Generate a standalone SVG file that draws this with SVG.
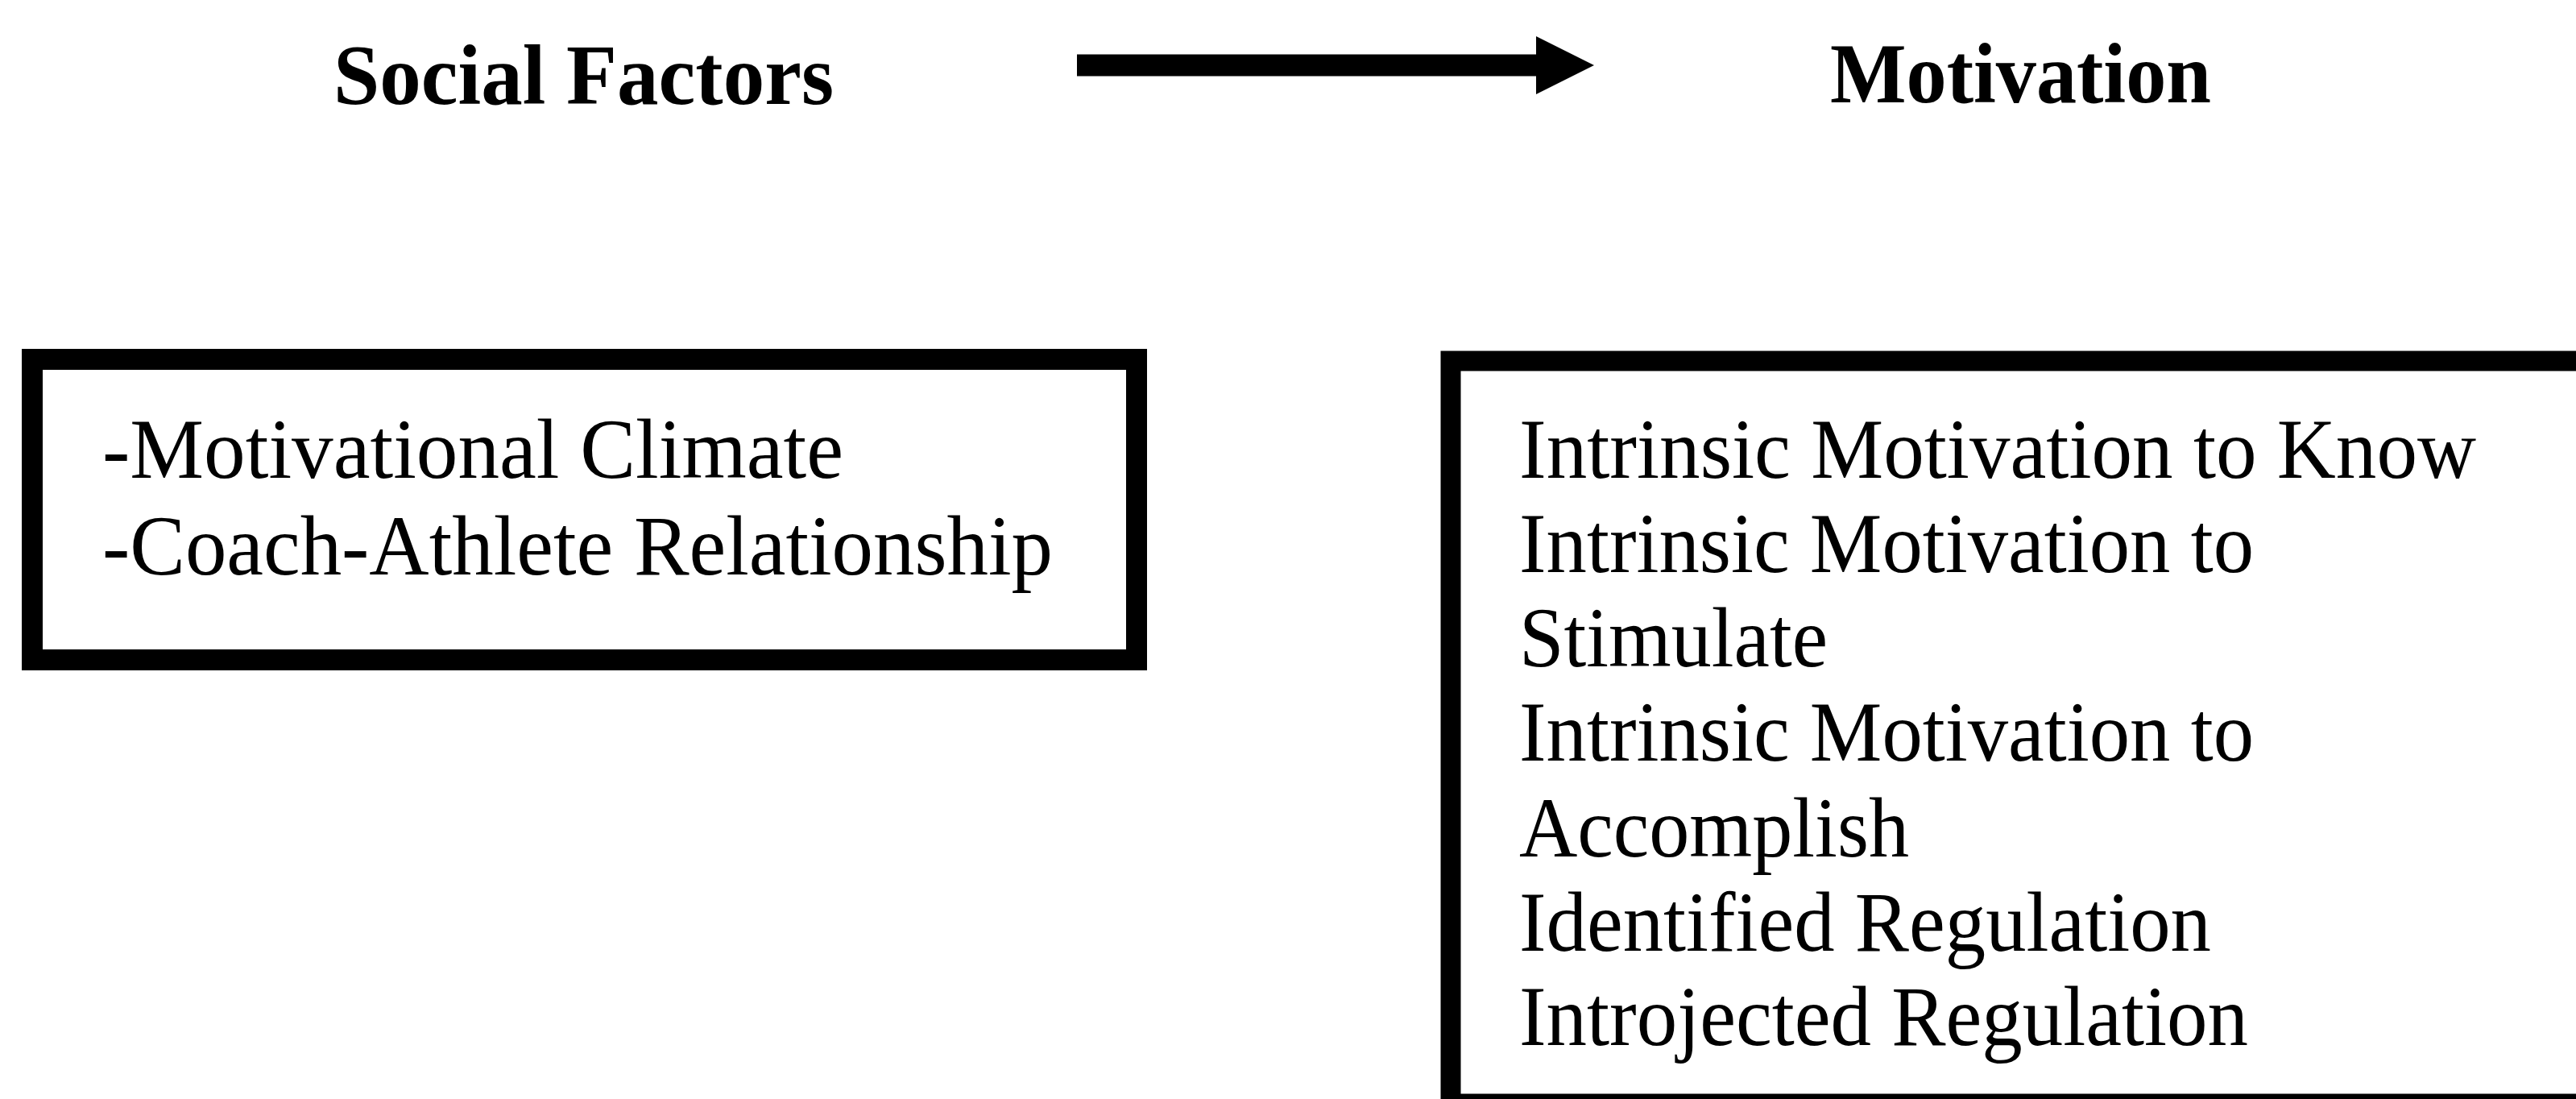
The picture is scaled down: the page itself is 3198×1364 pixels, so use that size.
<svg xmlns="http://www.w3.org/2000/svg" width="3198" height="1364" viewBox="0 0 3198 1364">
  <style>
    .head { font-family: "Liberation Serif", "Times New Roman", serif; font-weight: bold; font-size: 106px; fill: #000; }
    .item { font-family: "Liberation Serif", "Times New Roman", serif; font-size: 106px; fill: #000; }
    .box { fill: none; stroke: #000; }
    .link { stroke: #000; stroke-width: 27; fill: none; }
  </style>
  <defs>
    <marker id="arrowhead" markerUnits="userSpaceOnUse" markerWidth="72" markerHeight="72" viewBox="0 0 70 70" refX="0" refY="35" orient="auto">
      <path d="M0,0 L70,35 L0,70 Z" fill="#000"/>
    </marker>
  </defs>
  <rect width="3198" height="1364" fill="#fff"/>

  <!-- column headings -->
  <g id="social-factors">
    <text class="head" x="414" y="129" textLength="621" lengthAdjust="spacingAndGlyphs">Social Factors</text>
  </g>
  <g id="motivation">
    <text class="head" x="2272" y="127" textLength="473" lengthAdjust="spacingAndGlyphs">Motivation</text>
  </g>

  <!-- connectors -->
  <g id="connectors">
    <line class="link" x1="1337" y1="81" x2="1907" y2="81" marker-end="url(#arrowhead)"/>
  </g>

  <!-- social factors box -->
  <g id="social-factors-box">
    <rect class="box" x="40" y="446" width="1371" height="373" stroke-width="26"/>
    <text class="item" x="127" y="593" textLength="920" lengthAdjust="spacingAndGlyphs">-Motivational Climate</text>
    <text class="item" x="127" y="713" textLength="1180" lengthAdjust="spacingAndGlyphs">-Coach-Athlete Relationship</text>
  </g>

  <!-- motivation box (runs past the right and bottom edges) -->
  <g id="motivation-box">
    <rect class="box" x="1801" y="448" width="1420" height="922" stroke-width="25"/>
    <text class="item" x="1886" y="593" textLength="1188" lengthAdjust="spacingAndGlyphs">Intrinsic Motivation to Know</text>
    <text class="item" x="1886" y="710" textLength="912" lengthAdjust="spacingAndGlyphs">Intrinsic Motivation to</text>
    <text class="item" x="1886" y="827" textLength="383" lengthAdjust="spacingAndGlyphs">Stimulate</text>
    <text class="item" x="1886" y="944" textLength="912" lengthAdjust="spacingAndGlyphs">Intrinsic Motivation to</text>
    <text class="item" x="1886" y="1063" textLength="484" lengthAdjust="spacingAndGlyphs">Accomplish</text>
    <text class="item" x="1886" y="1180" textLength="859" lengthAdjust="spacingAndGlyphs">Identified Regulation</text>
    <text class="item" x="1886" y="1297" textLength="905" lengthAdjust="spacingAndGlyphs">Introjected Regulation</text>
  </g>
</svg>
